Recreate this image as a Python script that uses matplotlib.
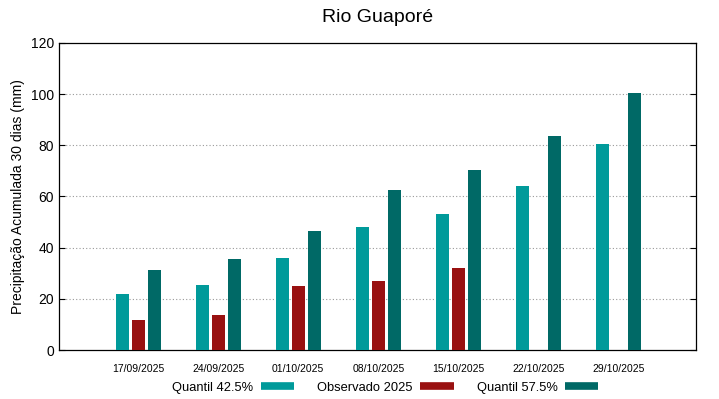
import numpy as np
import matplotlib.pyplot as plt
from matplotlib.lines import Line2D

plt.rcParams['font.family'] = ['Liberation Sans', 'DejaVu Sans']

# Data
datas = ["17/09/2025", "24/09/2025", "01/10/2025", "08/10/2025",
         "15/10/2025", "22/10/2025", "29/10/2025"]
q425 = [21.9, 25.4, 36.0, 48.1, 53.2, 64.1, 80.5]
observado = [11.7, 13.7, 25.0, 27.0, 32.0, np.nan, np.nan]
q575 = [31.3, 35.6, 46.5, 62.5, 70.4, 83.7, 100.5]

c_q425 = "#009a9a"
c_obs = "#991111"
c_q575 = "#006966"

fig = plt.figure(figsize=(7.19, 3.99), dpi=100)
ax = fig.add_axes([0.082, 0.1228, 0.886, 0.7695])

x = np.arange(len(datas))
w = 0.165
ax.bar(x - 0.2, q425, w, color=c_q425, zorder=3)
ax.bar(x, observado, w, color=c_obs, zorder=3)
ax.bar(x + 0.2, q575, w, color=c_q575, zorder=3)

ax.set_xlim(-0.99, 6.97)
ax.set_ylim(0, 120)
ax.set_yticks(np.arange(0, 121, 20))
ax.set_xticks(x)
ax.set_xticklabels(datas, fontsize=7.5)
ax.tick_params(axis='y', direction='in', right=True, labelsize=10, length=4)
ax.tick_params(axis='x', length=0, pad=10)
for y in range(20, 120, 20):
    ax.axhline(y, color='#999999', lw=0.8, ls=(0, (1, 2)), zorder=1)
for s in ax.spines.values():
    s.set_linewidth(0.9)

ax.set_ylabel("Precipitação Acumulada 30 dias (mm)", fontsize=10)
ax.set_title("Rio Guaporé", fontsize=14, pad=15)

handles = [Line2D([], [], color=c, lw=5.5, solid_capstyle='butt')
           for c in (c_q425, c_obs, c_q575)]
fig.legend(handles, ["Quantil 42.5%", "Observado 2025", "Quantil 57.5%"],
           loc='center', bbox_to_anchor=(0.536, 0.028), ncol=3, frameon=False,
           markerfirst=False, fontsize=9.3, handlelength=2.6, columnspacing=1.8,
           handletextpad=0.55)

fig.savefig("out.png", dpi=100)
